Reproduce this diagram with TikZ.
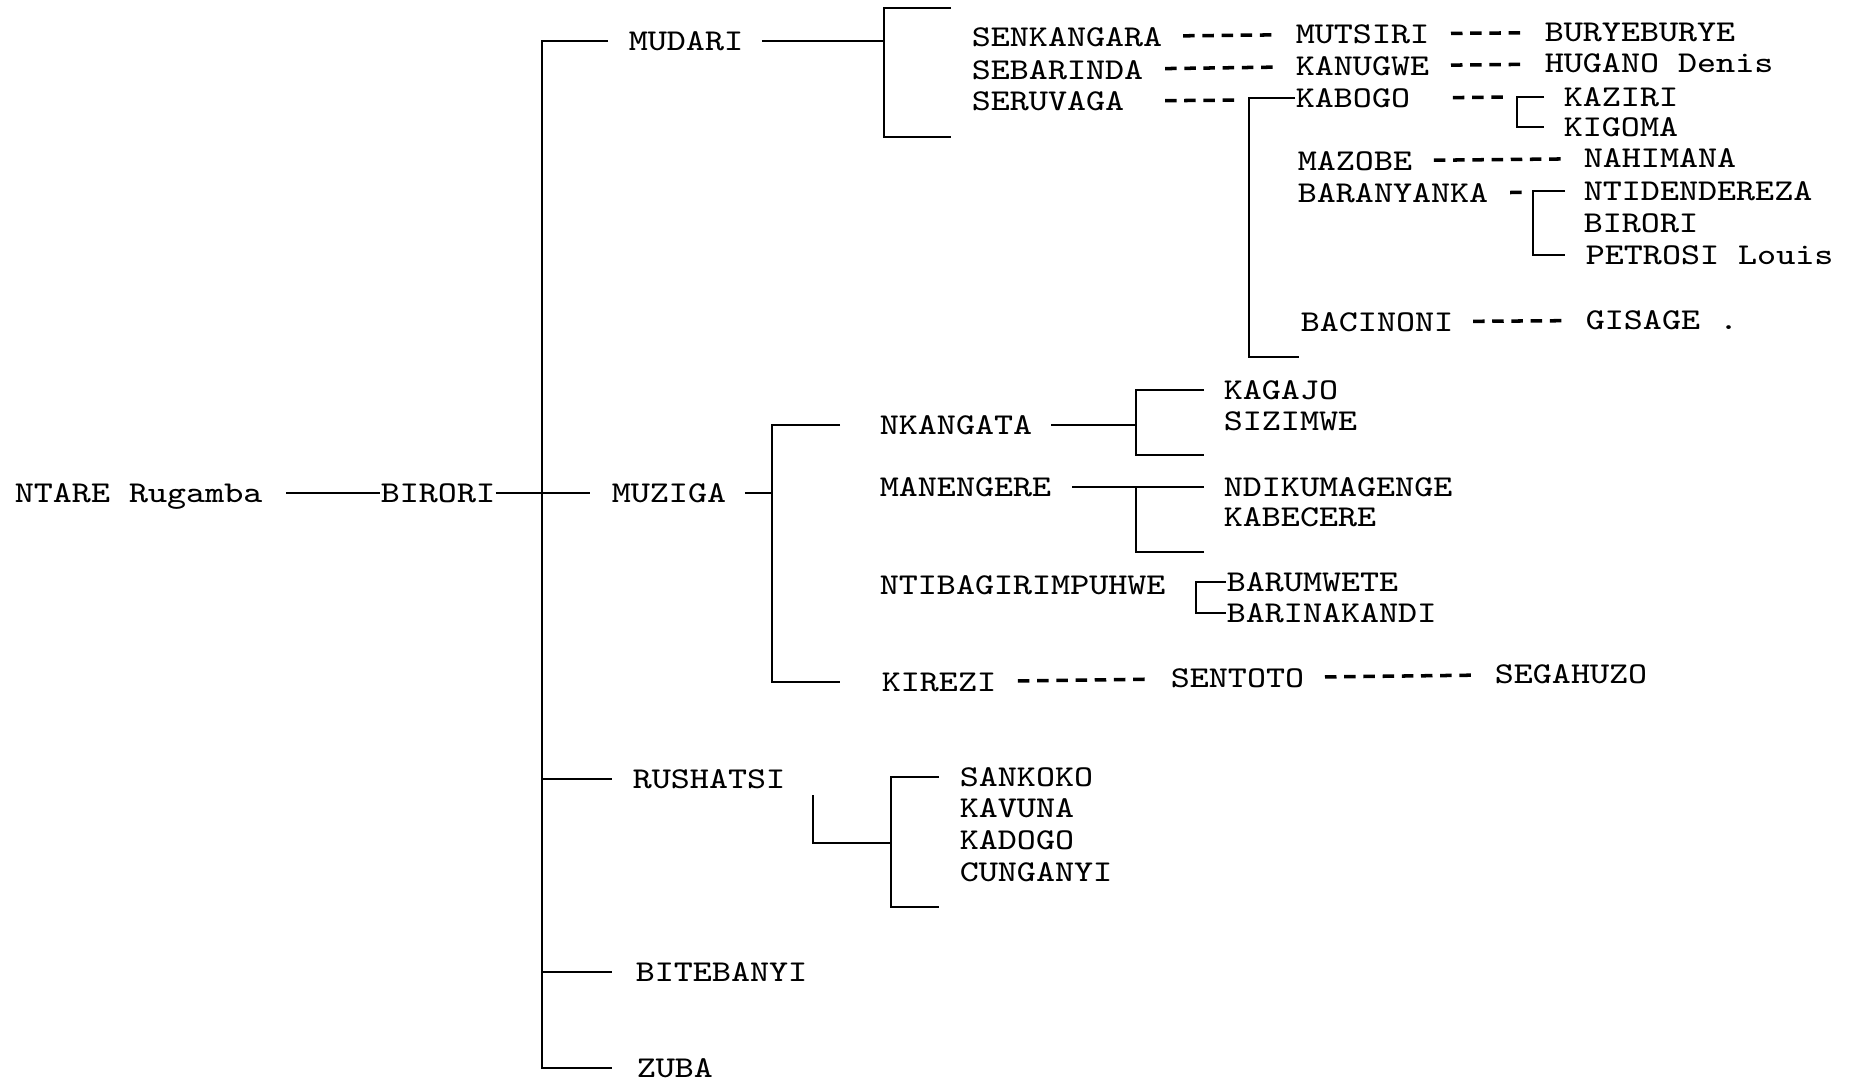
\documentclass[tikz,border=0pt]{standalone}
\usepackage{tikz}

\begin{document}
\begin{tikzpicture}[x=0.1mm,y=-0.1mm]
            \tikzstyle{person}=[anchor=west, inner sep=0pt, text height=5.3pt, text depth=0pt, font=\ttfamily\fontsize{8.6}{10}\selectfont, xscale=1.2]
            \tikzstyle{connect}=[line width=0.7pt]
            \tikzstyle{kin}=[line width=1pt, dash pattern=on 1.15mm off 0.77mm]
            \useasboundingbox (0,0) rectangle (1849,1082);

            \node[person] (Ntare) at (14,493){NTARE Rugamba};
            \node[person] (Birori) at (380,493){BIRORI};
            \node[person] (Mudari) at (628,41){MUDARI};
            \node[person] (Muziga) at (611,493){MUZIGA};
            \node[person] (Rushatsi) at (632,779){RUSHATSI};
            \node[person] (Bitebanyi) at (635,972){BITEBANYI};
            \node[person] (Zuba) at (636,1068){ZUBA};

            % MUDARI
            \node[person] (Senkangara) at (971,37){SENKANGARA};
            \node[person] (Sebarinda) at (971,70){SEBARINDA};
            \node[person] (Seruvaga) at (971,101){SERUVAGA};
            \node[person] (Mutsiri) at (1295,34){MUTSIRI};
            \node[person] (Kanugwe) at (1295,66){KANUGWE};
            \node[person] (Kabogo) at (1295,98){KABOGO};
            \node[person] (Buryeburye) at (1544,32){BURYEBURYE};
            \node[person] (Hugano) at (1544,63){HUGANO Denis};
            \node[person] (Kaziri) at (1563,97){KAZIRI};
            \node[person] (Kigoma) at (1563,127){KIGOMA};
            \node[person] (Mazobe) at (1297,161){MAZOBE};
            \node[person] (Nahimana) at (1583,158){NAHIMANA};
            \node[person] (Baranyanka) at (1297,193){BARANYANKA};
            \node[person] (Ntidendereza) at (1583,191){NTIDENDEREZA};
            \node[person] (Birori2) at (1583,223){BIRORI};
            \node[person] (Petrosi) at (1585,255){PETROSI Louis};
            \node[person] (Bacinoni) at (1300,322){BACINONI};
            \node[person] (Gisage) at (1585,320){GISAGE .};

            % MUZIGA
            \node[person] (Nkangata) at (879,425){NKANGATA};
            \node[person] (Manengere) at (879,487){MANENGERE};
            \node[person] (Ntibagi) at (879,585){NTIBAGIRIMPUHWE};
            \node[person] (Kirezi) at (881,682){KIREZI};
            \node[person] (Kagajo) at (1223,390){KAGAJO};
            \node[person] (Sizimwe) at (1223,421){SIZIMWE};
            \node[person] (Ndiku) at (1223,487){NDIKUMAGENGE};
            \node[person] (Kabecere) at (1223,517){KABECERE};
            \node[person] (Barumwete) at (1226,582){BARUMWETE};
            \node[person] (Barinakandi) at (1226,613){BARINAKANDI};
            \node[person] (Sentoto) at (1170,678){SENTOTO};
            \node[person] (Segahuzo) at (1494,674){SEGAHUZO};

            % RUSHATSI
            \node[person] (Sankoko) at (959,777){SANKOKO};
            \node[person] (Kavuna) at (959,808){KAVUNA};
            \node[person] (Kadogo) at (959,840){KADOGO};
            \node[person] (Cunganyi) at (959,872){CUNGANYI};

            \coordinate (trunk) at (542,41);
            \coordinate (mtop) at (951,8);
            \coordinate (mjoin) at (884,41);
            \coordinate (mbot) at (951,137);
            \coordinate (sjoin) at (1249,100);
            \coordinate (sbot) at (1299,357);
            \coordinate (kjoin) at (1517,97);
            \coordinate (bjoin) at (1533,192);
            \coordinate (zjoin) at (772,493);
            \coordinate (njoin) at (1136,425);
            \coordinate (nbot) at (1204,455);
            \coordinate (mnbot) at (1204,552);
            \coordinate (rstart) at (813,795);
            \coordinate (rjoin) at (891,843);
            \coordinate (rbot) at (939,907);

            \path[-] (Ntare) edge [connect, shorten <=2.3mm] (Birori);
            \path[-] (Birori) edge [connect, shorten >=2.1mm] (Muziga);
            \draw[connect] ([xshift=-2mm]Mudari.west) -- (trunk) -- (trunk |- Zuba.west) -- ([xshift=-2.4mm]Zuba.west);
            \draw[connect] (trunk |- Rushatsi.west) -- ([xshift=-2mm]Rushatsi.west);
            \draw[connect] (trunk |- Bitebanyi.west) -- ([xshift=-2.3mm]Bitebanyi.west);

            \draw[connect, shorten <=1.8mm] (Mudari.east) -- (mjoin);
            \draw[connect] (mtop) -| (mjoin) |- (mbot);
            \path[-] (Senkangara) edge [kin, shorten <=2mm, shorten >=2mm] (Mutsiri);
            \path[-] (Mutsiri) edge [kin, shorten <=2.1mm, shorten >=2.1mm] (Buryeburye);
            \path[-] (Sebarinda) edge [kin, shorten <=2.1mm, shorten >=2.1mm] (Kanugwe);
            \path[-] (Kanugwe) edge [kin, shorten <=2.1mm, shorten >=2.1mm] (Hugano);
            \draw[kin, shorten <=4mm, shorten >=1.4mm] (Seruvaga.east) -- (sjoin);
            \draw[connect] (Kabogo.west) -- (Kabogo.west -| sjoin) |- (sbot);
            \draw[kin, shorten <=4.2mm, shorten >=1.3mm] (Kabogo.east) -- (kjoin);
            \draw[connect] ([xshift=-1.9mm]Kaziri.west) -- (kjoin) |- ([xshift=-1.9mm]Kigoma.west);
            \path[-] (Mazobe) edge [kin, shorten <=2.1mm, shorten >=2mm] (Nahimana);
            \draw[kin, shorten <=2.1mm, shorten >=1mm] (Baranyanka.east) -- (bjoin);
            \draw[connect] ([xshift=-1.8mm]Ntidendereza.west) -- (Ntidendereza.west -| bjoin) |- ([xshift=-2mm]Petrosi.west);
            \path[-] (Bacinoni) edge [kin, shorten <=1.9mm, shorten >=2.2mm] (Gisage);

            \draw[connect, shorten <=1.8mm] (Muziga.east) -- (zjoin);
            \draw[connect] ([xshift=-3.9mm]Nkangata.west) -- (Nkangata.west -| zjoin) |- ([xshift=-4.1mm]Kirezi.west);
            \draw[connect, shorten <=1.8mm] (Nkangata.east) -- (njoin);
            \draw[connect] ([xshift=-1.9mm]Kagajo.west) -- (Kagajo.west -| njoin) |- (nbot);
            \path[-] (Manengere) edge [connect, shorten <=2mm, shorten >=1.9mm] (Ndiku);
            \draw[connect] (mnbot) -| ([xshift=-8.7mm]Ndiku.west);
            \draw[connect] (Barumwete.west) -- ++(-30,0) |- (Barinakandi.west);
            \path[-] (Kirezi) edge [kin, shorten <=2.1mm, shorten >=2.3mm] (Sentoto);
            \path[-] (Sentoto) edge [kin, shorten <=2mm, shorten >=2.2mm] (Segahuzo);

            \draw[connect] (rstart) |- (rjoin);
            \draw[connect] ([xshift=-2mm]Sankoko.west) -- (Sankoko.west -| rjoin) |- (rbot);
        \end{tikzpicture}
\end{document}
